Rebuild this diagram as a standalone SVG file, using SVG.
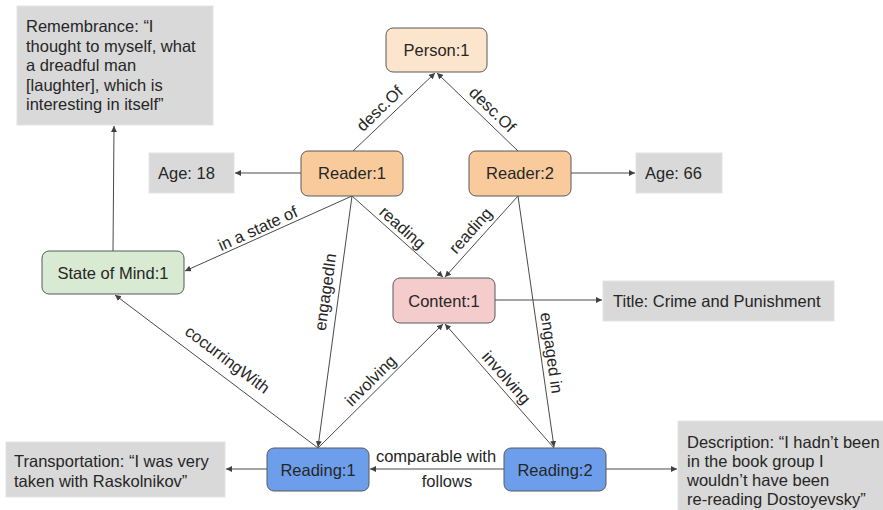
<svg xmlns="http://www.w3.org/2000/svg" width="883" height="510" viewBox="0 0 883 510">
<defs>
<marker id="arr" markerUnits="userSpaceOnUse" markerWidth="7" markerHeight="6" refX="6" refY="3" orient="auto">
<path d="M0,0 L6,3 L0,6 z" fill="#404040"/>
</marker>
<style>
text{font-family:"Liberation Sans",Arial,sans-serif;font-size:16.5px;fill:#262626}
.c{text-anchor:middle}
.box{fill:#d9d9d9;stroke:#e3e3e3;stroke-width:1}
.n{stroke:#595959;stroke-width:1}
.e{fill:none;stroke:#4a4a4a;stroke-width:1;marker-end:url(#arr)}
</style>
</defs>
<rect width="883" height="510" fill="#ffffff"/>

<g id="connectors">
<line class="e" x1="353" y1="151" x2="435" y2="73"/>
<line class="e" x1="518" y1="151" x2="437" y2="73"/>
<line class="e" x1="301" y1="173" x2="235" y2="173"/>
<line class="e" x1="571" y1="173" x2="635" y2="173"/>
<line class="e" x1="352" y1="196" x2="185" y2="271"/>
<line class="e" x1="352" y1="196" x2="443" y2="277"/>
<line class="e" x1="518" y1="196" x2="445" y2="277"/>
<line class="e" x1="352" y1="196" x2="318" y2="447"/>
<line class="e" x1="518" y1="196" x2="554" y2="447"/>
<line class="e" x1="495" y1="300" x2="602" y2="300"/>
<line class="e" x1="318" y1="448" x2="443" y2="324"/>
<line class="e" x1="554" y1="448" x2="445" y2="324"/>
<line class="e" x1="318" y1="448" x2="115" y2="295"/>
<line class="e" x1="113" y1="251" x2="114" y2="126"/>
<line class="e" x1="267" y1="469" x2="226" y2="469"/>
<line class="e" x1="504" y1="469" x2="370" y2="469"/>
<line class="e" x1="606" y1="469" x2="677" y2="469"/>
<text class="c" transform="translate(380,109) rotate(-44)" y="5">desc.Of</text>
<text class="c" transform="translate(492,110) rotate(44)" y="5">desc.Of</text>
<text class="c" transform="translate(258,229) rotate(-24.5)" y="5">in a state of</text>
<text class="c" transform="translate(402,228) rotate(41.7)" y="5">reading</text>
<text class="c" transform="translate(471,231) rotate(-48)" y="5">reading</text>
<text class="c" transform="translate(326,292) rotate(-82)" y="5">engagedIn</text>
<text class="c" transform="translate(551,353) rotate(82)" y="5">engaged in</text>
<text class="c" transform="translate(371,381) rotate(-44.8)" y="5">involving</text>
<text class="c" transform="translate(506,378) rotate(48.7)" y="5">involving</text>
<text class="c" transform="translate(227,360) rotate(37)" y="5">cocurringWith</text>
<text class="c" x="436" y="462">comparable with</text>
<text class="c" x="447" y="487">follows</text>
</g>

<g id="remembrance">
<rect class="box" x="17" y="6" width="196" height="119"/>
<text x="26" y="32">Remembrance: “I</text>
<text x="26" y="51.5">thought to myself, what</text>
<text x="26" y="71">a dreadful man</text>
<text x="26" y="90.5">[laughter], which is</text>
<text x="26" y="110">interesting in itself”</text>
</g>

<g id="person1">
<rect class="n" x="386" y="28" width="101" height="44" rx="7" fill="#fce5cd"/>
<text class="c" x="436.5" y="56">Person:1</text>
</g>

<g id="age18">
<rect class="box" x="149" y="153" width="85" height="40"/>
<text x="158" y="179">Age: 18</text>
</g>

<g id="reader1">
<rect class="n" x="301" y="151" width="102" height="45" rx="7" fill="#f9cb9c"/>
<text class="c" x="352" y="179">Reader:1</text>
</g>

<g id="reader2">
<rect class="n" x="469" y="151" width="102" height="45" rx="7" fill="#f9cb9c"/>
<text class="c" x="520" y="179">Reader:2</text>
</g>

<g id="age66">
<rect class="box" x="636" y="153" width="86" height="40"/>
<text x="645" y="179">Age: 66</text>
</g>

<g id="stateofmind1">
<rect class="n" x="42" y="251" width="142" height="43" rx="7" fill="#d9ead3"/>
<text class="c" x="113" y="278.5">State of Mind:1</text>
</g>

<g id="content1">
<rect class="n" x="393" y="278" width="102" height="45" rx="7" fill="#f4cccc"/>
<text class="c" x="444" y="306.5">Content:1</text>
</g>

<g id="title">
<rect class="box" x="603" y="281" width="231" height="40"/>
<text x="613" y="306.5">Title: Crime and Punishment</text>
</g>

<g id="transportation">
<rect class="box" x="6" y="442" width="219" height="55"/>
<text x="14" y="467">Transportation: “I was very</text>
<text x="14" y="487">taken with Raskolnikov”</text>
</g>

<g id="reading1">
<rect class="n" x="267" y="448" width="102" height="43" rx="7" fill="#6d9eeb"/>
<text class="c" x="318" y="475.5">Reading:1</text>
</g>

<g id="reading2">
<rect class="n" x="504" y="448" width="102" height="43" rx="7" fill="#6d9eeb"/>
<text class="c" x="555" y="475.5">Reading:2</text>
</g>

<g id="description">
<rect class="box" x="678" y="421" width="215" height="100"/>
<text x="687" y="448">Description: “I hadn’t been</text>
<text x="687" y="467">in the book group I</text>
<text x="687" y="486">wouldn’t have been</text>
<text x="687" y="505">re-reading Dostoyevsky”</text>
</g>
</svg>
